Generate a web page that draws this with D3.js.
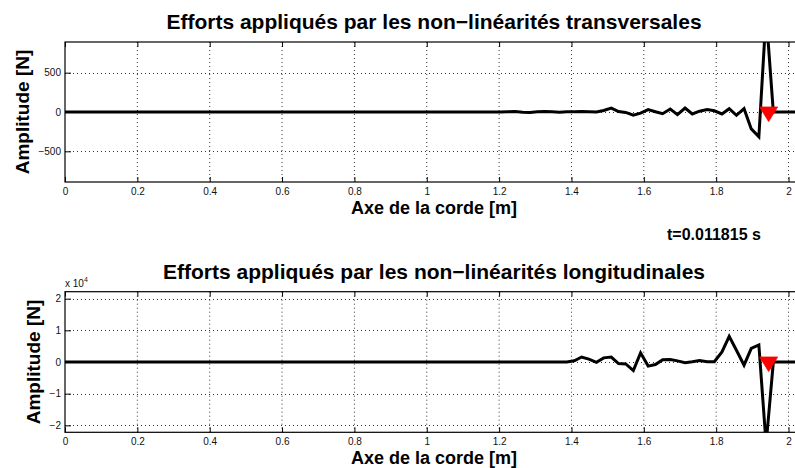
<!DOCTYPE html>
<html>
<head>
<meta charset="utf-8">
<script src="https://cdn.jsdelivr.net/npm/d3@7"></script>
<style>
  html, body { margin: 0; padding: 0; background: #fff; }
  svg { display: block; font-family: "Liberation Sans", Arial, Helvetica, sans-serif; }
</style>
</head>
<body>
<svg id="chart" width="795" height="468"></svg>
<script>
// ---------------- DATA ----------------
const xTicks = [0, 0.2, 0.4, 0.6, 0.8, 1, 1.2, 1.4, 1.6, 1.8, 2];
const xTickLabels = ["0", "0.2", "0.4", "0.6", "0.8", "1", "1.2", "1.4", "1.6", "1.8", "2"];
const yTicksTop = [-500, 0, 500];
const yTickLabelsTop = ["\u2212500", "0", "500"];
const yTicksBottom = [-20000, -10000, 0, 10000, 20000];
const yTickLabelsBottom = ["\u22122", "\u22121", "0", "1", "2"];

// positions along the string [m]
const positions = [0, 1.204, 1.224, 1.244, 1.265, 1.285, 1.306, 1.326, 1.346, 1.367, 1.387,
  1.408, 1.428, 1.448, 1.469, 1.489, 1.510, 1.530, 1.550, 1.571, 1.591,
  1.612, 1.632, 1.652, 1.673, 1.693, 1.714, 1.734, 1.754, 1.775, 1.795,
  1.816, 1.836, 1.856, 1.877, 1.897, 1.918, 1.938, 1.958, 1.979, 1.999, 2.020, 2.040];

// transverse non-linear forces [N]
const transverseForces = [0, 0, 3, 5, -3, -6, 4, 7, 2, -4, 3,
  2, 5, 2, 0, 20, 50, 5, -5, -40, -15,
  30, 3, -22, 38, -34, 50, -25, 10, 30, 15,
  -25, 42, -42, 42, -215, -315, 1250, 0, 0, 0, 0, 0];

// longitudinal non-linear forces [N]
const longitudinalForces = [0, 0, 0, 0, 0, 0, 0, 0, 0, 0, 0,
  400, 1575, 900, -100, 1300, 1550, -500, -600, -2700, 2900,
  -1300, -800, 700, 750, 350, -200, 100, 500, 100, 100,
  3200, 8100, 3700, -1000, 4300, 5400, -26000, 0, 0, 0, 0, 0];

const markerPosition = 1.945;
const timeLabel = "t=0.011815 s";
const titles = ["Efforts appliqués par les non\u2212linéarités transversales",
                "Efforts appliqués par les non\u2212linéarités longitudinales"];
const xLabel = "Axe de la corde [m]";
const yLabel = "Amplitude [N]";

// ---------------- DRAW ----------------
const svg = d3.select("#chart");
const x = d3.scaleLinear().domain([0, 2.04]).range([65, 803]);

const panels = [
  { top: 42, bottom: 182, domain: [-890, 890], ticks: yTicksTop, labels: yTickLabelsTop,
    values: transverseForces, title: titles[0], titleY: 29, xlabY: 214, ylabX: 29 },
  { top: 291.7, bottom: 432.3, domain: [-22200, 22200], ticks: yTicksBottom, labels: yTickLabelsBottom,
    values: longitudinalForces, title: titles[1], titleY: 279, xlabY: 463.5, ylabX: 40 }
];

panels.forEach((p, i) => {
  const y = d3.scaleLinear().domain(p.domain).range([p.bottom, p.top]);
  const g = svg.append("g");
  const clipId = "clip" + i;
  svg.append("clipPath").attr("id", clipId)
    .append("rect").attr("x", x.range()[0]).attr("y", p.top)
    .attr("width", x.range()[1] - x.range()[0]).attr("height", p.bottom - p.top);

  // grid
  g.append("g").selectAll("line").data(xTicks.filter(d => d > 0)).join("line")
    .attr("x1", d => x(d)).attr("x2", d => x(d))
    .attr("y1", p.top).attr("y2", p.bottom)
    .attr("stroke", "#333").attr("stroke-width", 1).attr("stroke-dasharray", "1,3");
  g.append("g").selectAll("line").data(p.ticks).join("line")
    .attr("x1", x.range()[0]).attr("x2", x.range()[1])
    .attr("y1", d => Math.round(y(d)) + 0.5).attr("y2", d => Math.round(y(d)) + 0.5)
    .attr("stroke", "#333").attr("stroke-width", 1).attr("stroke-dasharray", "1,3");

  // axes
  const xb = d3.axisBottom(x).tickValues(xTicks).tickFormat((d, j) => xTickLabels[j])
    .tickSize(-5).tickPadding(6);
  const gx = g.append("g").attr("transform", `translate(0,${p.bottom})`).call(xb);
  const xt = d3.axisTop(x).tickValues(xTicks).tickFormat("").tickSize(-5);
  const gxt = g.append("g").attr("transform", `translate(0,${p.top})`).call(xt);
  const yl = d3.axisLeft(y).tickValues(p.ticks).tickFormat((d, j) => p.labels[j])
    .tickSize(-6).tickPadding(4);
  const gy = g.append("g").attr("transform", `translate(${x.range()[0]},0)`).call(yl);
  [gx, gxt, gy].forEach(a => {
    a.select(".domain").remove();
    a.selectAll("line").attr("stroke", "#000");
    a.selectAll("text").attr("font-size", 10).attr("fill", "#111")
      .attr("font-family", "Liberation Sans, Arial, sans-serif");
  });

  // box
  g.append("rect").attr("x", x.range()[0]).attr("y", p.top)
    .attr("width", x.range()[1] - x.range()[0]).attr("height", p.bottom - p.top)
    .attr("fill", "none").attr("stroke", "#000").attr("stroke-width", 1.2);

  // line
  const line = d3.line().x((d, j) => x(positions[j])).y(d => y(d));
  g.append("path").datum(p.values).attr("clip-path", `url(#${clipId})`)
    .attr("d", line).attr("fill", "none").attr("stroke", "#000")
    .attr("stroke-width", 3).attr("stroke-linejoin", "miter");

  // marker
  const mx = x(markerPosition), my = y(0);
  g.append("path").attr("d", `M${mx - 9},${my - 5}L${mx + 9},${my - 5}L${mx},${my + 9.5}Z`)
    .attr("fill", "#ff0000").attr("stroke", "#ff0000").attr("stroke-width", 0.8);

  // texts
  g.append("text").attr("x", 434).attr("y", p.titleY).attr("text-anchor", "middle")
    .attr("font-size", 21).attr("font-weight", "bold").text(p.title);
  g.append("text").attr("x", 434).attr("y", p.xlabY).attr("text-anchor", "middle")
    .attr("font-size", 18).attr("font-weight", "bold").text(xLabel);
  g.append("text").attr("transform", `translate(${p.ylabX},${(p.top + p.bottom) / 2}) rotate(-90)`)
    .attr("text-anchor", "middle").attr("font-size", 19).attr("font-weight", "bold").text(yLabel);
});

svg.append("text").attr("x", 667).attr("y", 240).attr("font-size", 16)
  .attr("font-weight", "bold").text(timeLabel);

const exp = svg.append("text").attr("x", 65).attr("y", 287).attr("font-size", 10).attr("fill", "#111");
exp.append("tspan").text("x 10");
exp.append("tspan").attr("dy", -5).attr("font-size", 7).text("4");
</script>
</body>
</html>
